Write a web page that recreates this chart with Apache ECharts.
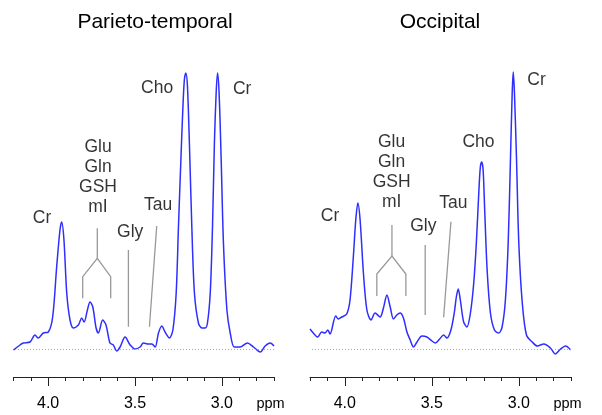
<!DOCTYPE html>
<html><head><meta charset="utf-8">
<script src="https://cdn.jsdelivr.net/npm/echarts@6/dist/echarts.min.js"></script>
<style>html,body{margin:0;padding:0;background:#fff}#c{width:602px;height:415px}</style>
</head><body><div id="c"></div>
<script>
const titles = ['Parieto-temporal', 'Occipital'];

// Parieto-temporal spectrum (ppm, intensity)
const ptPpm = [4.200,4.162,4.143,4.104,4.076,4.057,4.028,3.999,3.974,3.951,3.932,3.922,3.909,3.893,3.874,3.855,3.826,3.807,3.793,3.774,3.759,3.743,3.724,3.711,3.686,3.667,3.644,3.625,3.605,3.586,3.557,3.528,3.500,3.471,3.452,3.423,3.403,3.384,3.365,3.346,3.327,3.302,3.282,3.263,3.250,3.236,3.225,3.216,3.207,3.198,3.187,3.173,3.158,3.135,3.115,3.096,3.083,3.067,3.054,3.043,3.033,3.025,3.016,3.004,2.991,2.971,2.952,2.929,2.895,2.853,2.818,2.779,2.751,2.722,2.700];
const ptVal = [-1,4,6,7,14,11,16,17,32,82,119,127,109,56,29,21,24,31,27,39,47,42,21,16,29,24,6,4,-2,2,12,4,0,2,6,5,5,2,16,23,17,11,19,56,122,189,239,269,276,262,206,122,56,26,21,21,26,56,122,206,256,276,256,189,106,39,16,2,2,6,2,-3,3,6,3];

// Occipital spectrum (ppm, intensity)
const ocPpm = [4.200,4.181,4.156,4.133,4.114,4.098,4.085,4.052,4.037,4.017,3.989,3.970,3.951,3.937,3.925,3.912,3.893,3.873,3.849,3.826,3.797,3.778,3.758,3.739,3.720,3.701,3.682,3.663,3.643,3.624,3.605,3.585,3.557,3.528,3.499,3.480,3.455,3.432,3.413,3.390,3.371,3.359,3.348,3.336,3.317,3.298,3.278,3.259,3.244,3.230,3.221,3.213,3.205,3.196,3.182,3.163,3.140,3.115,3.096,3.077,3.061,3.048,3.038,3.032,3.025,3.013,3.000,2.980,2.956,2.923,2.894,2.856,2.818,2.790,2.760,2.731,2.702];
const ocVal = [20,16,12,17,16,19,15,33,30,32,35,49,92,129,146,129,76,39,29,36,32,41,54,42,30,34,36,31,17,9,2,7,13,12,8,6,10,14,11,19,36,52,60,49,27,22,36,66,106,156,182,187,179,139,79,36,19,16,22,49,106,189,256,277,256,189,106,46,14,7,3,5,1,-5,0,3,-1];

// Axis ticks
const minorTicks = [4.2,4.1,4.0,3.9,3.8,3.7,3.6,3.5,3.4,3.3,3.2,3.1,3.0,2.9,2.8,2.7];
const majorTicks = [4.0,3.5,3.0];
const unitPos = 2.72;
const unitLabel = 'ppm';

// Peak labels [text, ppm, intensity]
const ptLabels = [['Cr',4.035,131],['Glu',3.713,202],['Gln',3.713,182],['GSH',3.713,162],['mI',3.713,142],['Gly',3.528,117],['Tau',3.367,144],['Cho',3.373,261],['Cr',2.883,260]];
const ocLabels = [['Cr',4.085,133],['Glu',3.731,207],['Gln',3.731,187],['GSH',3.731,167],['mI',3.731,147],['Gly',3.549,123],['Tau',3.376,146],['Cho',3.232,207],['Cr',2.898,269]];

// Leader lines (ppm, intensity)
const ptLeaders = [
  [[3.801,50.7],[3.801,72.3],[3.717,90.7],[3.640,72.3],[3.640,50.7]],
  [[3.717,90.7],[3.717,120.7]],
  [[3.538,22.3],[3.538,99]],
  [[3.417,22.3],[3.375,123]]
];
const ocLeaders = [
  [[3.816,53],[3.816,75],[3.729,93],[3.649,75],[3.649,53]],
  [[3.729,93],[3.729,124]],
  [[3.538,34],[3.538,104]],
  [[3.432,31.7],[3.390,127.3]]
];

const FONT = 'Liberation Sans, Arial, sans-serif';
const zip = (a, b) => a.map((v, i) => [v, b[i]]);

const grids = [
  {left: 13.4, width: 260.6, top: 49, bottom: 38},
  {left: 310, width: 261, top: 49, bottom: 38}
];

function xAxesFor(gi) {
  return [
    {type:'value', gridIndex:gi, min:2.7, max:4.2, inverse:true, position:'bottom',
     axisLine:{show:true, onZero:false, lineStyle:{color:'#222', width:1}},
     axisTick:{show:true, customValues:minorTicks, length:4, lineStyle:{color:'#222'}},
     axisLabel:{show:false}, splitLine:{show:false}},
    {type:'value', gridIndex:gi, min:2.7, max:4.2, inverse:true, position:'bottom', offset:0,
     axisLine:{show:false, onZero:false},
     axisTick:{show:true, customValues:majorTicks, length:9, lineStyle:{color:'#222'}},
     axisLabel:{show:true, customValues:majorTicks.concat([unitPos]), margin:19,
       fontSize:16, color:'#000', fontFamily:FONT,
       formatter: v => Math.abs(v - unitPos) < 1e-6 ? '{u|' + unitLabel + '}' : v.toFixed(1),
       rich:{u:{fontSize:14.5, color:'#000', fontFamily:FONT}}},
     splitLine:{show:false}}
  ];
}

function seriesFor(gi, ppm, val, labels, leaders) {
  const xi = gi * 2;
  return [
    {type:'line', xAxisIndex:xi, yAxisIndex:gi, data:zip(ppm, val), showSymbol:false,
     smooth:0.3, lineStyle:{color:'#2e2eff', width:1.5}, silent:true, z:3,
     markLine:{silent:true, symbol:'none', label:{show:false},
       lineStyle:{color:'#aaa', type:[1,2], width:1}, data:[{yAxis:0}]}},
    {type:'lines', coordinateSystem:'cartesian2d', xAxisIndex:xi, yAxisIndex:gi, polyline:true,
     data:leaders.map(c => ({coords:c})), lineStyle:{color:'#999', width:1.3, opacity:1}, silent:true, z:2},
    {type:'scatter', xAxisIndex:xi, yAxisIndex:gi, symbolSize:1, itemStyle:{color:'rgba(0,0,0,0)'},
     data:labels.map(l => ({name:l[0], value:[l[1], l[2]]})), silent:true,
     label:{show:true, position:'inside', formatter:'{b}', color:'#000', fontSize:17.5, fontFamily:FONT}}
  ];
}

const chart = echarts.init(document.getElementById('c'), null, {renderer:'canvas'});
chart.setOption({
  animation:false,
  backgroundColor:'#fff',
  title: [
    {text:titles[0], left:150, top:7, textAlign:'center', textStyle:{fontSize:21, fontWeight:'normal', color:'#000', fontFamily:FONT}},
    {text:titles[1], left:435, top:7, textAlign:'center', textStyle:{fontSize:21, fontWeight:'normal', color:'#000', fontFamily:FONT}}
  ],
  grid: grids,
  xAxis: xAxesFor(0).concat(xAxesFor(1)),
  yAxis: [
    {type:'value', gridIndex:0, min:-28, max:300, show:false},
    {type:'value', gridIndex:1, min:-28, max:300, show:false}
  ],
  series: seriesFor(0, ptPpm, ptVal, ptLabels, ptLeaders).concat(seriesFor(1, ocPpm, ocVal, ocLabels, ocLeaders))
});
</script>
</body></html>
